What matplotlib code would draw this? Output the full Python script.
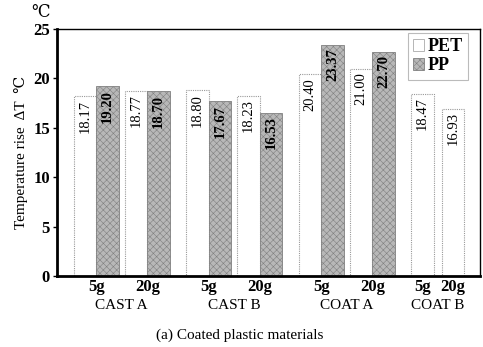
import matplotlib
matplotlib.use("Agg")
import matplotlib.pyplot as plt

plt.rcParams["font.family"] = ["Liberation Serif", "DejaVu Serif", "DejaVu Sans"]
plt.rcParams["hatch.linewidth"] = 0.4

groups = ["CAST A", "CAST B", "COAT A", "COAT B"]
doses = ["5g", "20g"]
pet = [18.17, 18.77, 18.80, 18.23, 20.40, 21.00, 18.47, 16.93]
pp = [19.20, 18.70, 17.67, 16.53, 23.37, 22.70, None, None]

BAR_W = 22.5
GROUP_STEP = 112.5
PAIR_STEP = 51
PAIR_STEP_SINGLE = 30.5
X0 = 28

fig = plt.figure(figsize=(4.83, 3.47), dpi=100)
ax = fig.add_axes([57 / 483, 1 - 276 / 347, 423 / 483, 247 / 347])

tick_pos = []
tick_lab = []
group_centers = []
for g, name in enumerate(groups):
    has_pp = pp[2 * g] is not None
    step = PAIR_STEP if has_pp else PAIR_STEP_SINGLE
    centers = []
    for s, dose in enumerate(doses):
        i = 2 * g + s
        xc = X0 + g * GROUP_STEP + s * step
        ax.bar(xc, pet[i], BAR_W, color="white", edgecolor="#999999",
               linewidth=0.8, linestyle=(0, (1, 1)), zorder=2)
        ax.text(xc, pet[i] - 0.35, f"{pet[i]:.2f}", rotation=90, ha="center",
                va="top", fontsize=10.5, zorder=4)
        if has_pp:
            xp = xc + BAR_W
            ax.bar(xp, pp[i], BAR_W, color="#b8b8b8", edgecolor="#808080",
                   hatch="xxxxx", linewidth=0.6, zorder=2)
            ax.text(xp, pp[i] - 0.35, f"{pp[i]:.2f}", rotation=90, ha="center",
                    va="top", fontsize=10.5, fontweight="bold", zorder=4)
            centers.append(xc + BAR_W / 2)
        else:
            centers.append(xc)
        tick_pos.append(centers[-1])
        tick_lab.append(dose)
    group_centers.append(sum(centers) / 2)

ax.set_xlim(0, 423)
ax.set_ylim(0, 25)
ax.set_yticks([0, 5, 10, 15, 20, 25])
ax.set_xticks(tick_pos)
ax.set_xticklabels(tick_lab, fontsize=12, fontweight="bold")
ax.tick_params(axis="x", length=0, pad=2)
ax.tick_params(axis="y", length=3, width=1, pad=2, labelsize=12)
for lab in ax.get_yticklabels():
    lab.set_fontweight("bold")

for c, name in zip(group_centers, groups):
    ax.text(c, -0.118, name, transform=ax.get_xaxis_transform(), ha="center",
            va="center", fontsize=11)

ax.spines["left"].set_linewidth(2)
ax.spines["bottom"].set_linewidth(2)
ax.spines["top"].set_linewidth(1)
ax.spines["right"].set_linewidth(1)
for sp in ax.spines.values():
    sp.set_zorder(5)

ax.set_ylabel("Temperature rise  \u0394T  \u2103", fontsize=11, labelpad=4)
fig.text(41 / 483, 1 - 13 / 347, "\u2103", fontsize=12, ha="center", va="center")
fig.text(240 / 483, 1 - 335 / 347, "(a) Coated plastic materials", fontsize=11,
         ha="center", va="center")

handles = [
    plt.Rectangle((0, 0), 1, 1, facecolor="white", edgecolor="#aaaaaa", linewidth=0.6),
    plt.Rectangle((0, 0), 1, 1, facecolor="#b8b8b8", edgecolor="#808080",
                  hatch="xxxxx", linewidth=0.6),
]
leg = ax.legend(handles, ["PET", "PP"], loc="upper right",
                bbox_to_anchor=(0.972, 0.984), borderaxespad=0, fontsize=13,
                frameon=True, fancybox=False, handlelength=0.6, handleheight=0.6,
                handletextpad=0.2, borderpad=0.3, labelspacing=0.1)
leg.get_frame().set_edgecolor("#aaaaaa")
leg.get_frame().set_linewidth(0.8)
for t in leg.get_texts():
    t.set_fontweight("bold")

fig.savefig("out.png", dpi=100)
